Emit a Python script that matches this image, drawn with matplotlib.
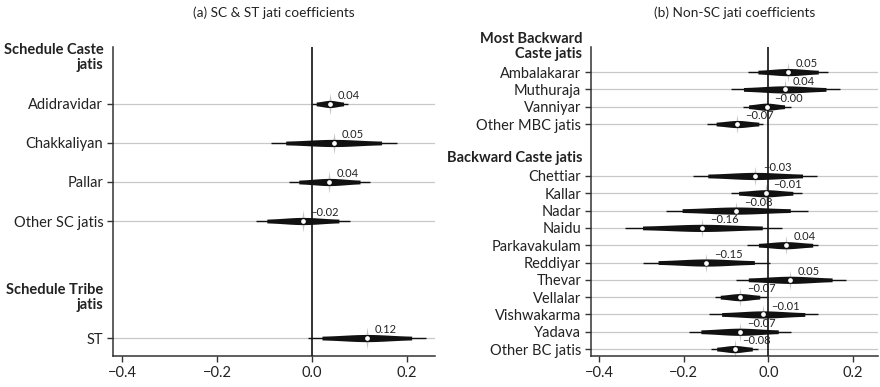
import numpy as np
import matplotlib
matplotlib.use("Agg")
import matplotlib.pyplot as plt
from matplotlib.transforms import blended_transform_factory

plt.rcParams['font.family'] = ['Lato', 'DejaVu Sans']

# (a) Scheduled caste / tribe jatis: estimate and outer interval bounds
sc_labels = ["Adidravidar", "Chakkaliyan", "Pallar", "Other SC jatis"]
sc_coef = [0.038, 0.046, 0.037, -0.019]
sc_lo = [0.000, -0.087, -0.048, -0.119]
sc_hi = [0.076, 0.179, 0.122, 0.081]

st_labels = ["ST"]
st_coef = [0.116]
st_lo = [-0.009]
st_hi = [0.240]

# (b) Non-SC jatis
mbc_labels = ["Ambalakarar", "Muthuraja", "Vanniyar", "Other MBC jatis"]
mbc_coef = [0.047, 0.039, -0.004, -0.073]
mbc_lo = [-0.047, -0.088, -0.059, -0.145]
mbc_hi = [0.141, 0.169, 0.053, -0.012]

bc_labels = ["Chettiar", "Kallar", "Nadar", "Naidu", "Parkavakulam", "Reddiyar",
             "Thevar", "Vellalar", "Vishwakarma", "Yadava", "Other BC jatis"]
bc_coef = [-0.031, -0.006, -0.076, -0.156, 0.041, -0.147,
           0.052, -0.067, -0.012, -0.068, -0.080]
bc_lo = [-0.179, -0.088, -0.243, -0.340, -0.051, -0.296,
         -0.077, -0.127, -0.141, -0.188, -0.135]
bc_hi = [0.116, 0.081, 0.094, 0.033, 0.118, 0.004,
         0.184, -0.004, 0.118, 0.053, -0.024]

xticks = [-0.4, -0.2, 0.0, 0.2]

# four-pointed star drawn behind each estimate
star = [(0, 1), (0.12, 0.12), (0.45, 0), (0.12, -0.12),
        (0, -1), (-0.12, -0.12), (-0.45, 0), (-0.12, 0.12)]


def fmt(v, nd=2):
    return f"{v:.{nd}f}".replace("-", "\u2212")


def draw_coef(ax, y, est, lo, hi, px_per_unit, star_size):
    se = (hi - lo) / (2 * 2.576)
    ax.plot([lo, hi], [y, y], color="#111111", lw=1.0, solid_capstyle="butt", zorder=3)
    # spindle: constant band out to 95%, swelling towards the estimate
    z = np.linspace(-1.96, 1.96, 121)
    half = (1.6 + 2.0 * np.exp(-z ** 2 / 2)) / px_per_unit
    ax.fill_between(est + z * se, y - half, y + half, color="#111111", lw=0, zorder=3)
    ax.plot([est], [y], marker=star, markersize=star_size, color="#bdbdbd", mew=0,
            alpha=0.85, zorder=2)
    ax.plot([est], [y], marker="o", markersize=3.4, color="white", mew=0, zorder=5)
    ax.annotate(fmt(est), (est, y), xytext=(5.5, 2), textcoords="offset points",
                ha="left", va="bottom", fontsize=8, color="#222222", zorder=6)


def panel(ax, groups, ylim, title, star_size):
    ax.set_ylim(*ylim)
    ax.set_xlim(-0.42, 0.26)
    px_per_unit = ax.bbox.height / abs(ylim[0] - ylim[1])
    ticks, names = [], []
    trans = blended_transform_factory(ax.transAxes, ax.transData)
    for header, hy, start, labels, coef, lo, hi in groups:
        ax.text(-0.03, hy, header, transform=trans, ha="right", va="center",
                multialignment="right", fontsize=10.5, fontweight="bold",
                color="#222222", linespacing=1.1)
        for i, name in enumerate(labels):
            y = start + i
            ax.axhline(y, color="#c8c8c8", lw=0.9, zorder=1)
            draw_coef(ax, y, coef[i], lo[i], hi[i], px_per_unit, star_size)
            ticks.append(y)
            names.append(name)
    ax.axvline(0, color="#111111", lw=1.2, zorder=4)
    ax.set_yticks(ticks)
    ax.set_yticklabels(names, fontsize=10.5, color="#222222")
    ax.set_xticks(xticks)
    ax.set_xticklabels([fmt(t, 1) for t in xticks], fontsize=10.5, color="#222222")
    for s in ["top", "right"]:
        ax.spines[s].set_visible(False)
    for s in ["left", "bottom"]:
        ax.spines[s].set_color("#333333")
        ax.spines[s].set_linewidth(1.1)
    ax.tick_params(axis="both", direction="out", length=4, width=1.0, color="#333333")
    ax.tick_params(axis="y", pad=3)
    pos = ax.get_position()
    fig.text(pos.x0 + pos.width / 2, 1 - 13 / 387, title, ha="center", va="center",
             fontsize=9.8, color="#222222")


fig = plt.figure(figsize=(8.8, 3.87), dpi=100)
ax1 = fig.add_axes([113 / 880, 1 - 356 / 387, 322 / 880, 309 / 387])
ax2 = fig.add_axes([591 / 880, 1 - 356 / 387, 287 / 880, 309 / 387])

panel(ax1, [
    ("Schedule Caste\njatis", -0.19, 1, sc_labels, sc_coef, sc_lo, sc_hi),
    ("Schedule Tribe\njatis", 5.97, 7, st_labels, st_coef, st_lo, st_hi),
], (7.46, -0.46), "(a) SC & ST jati coefficients", 16)

panel(ax2, [
    ("Most Backward\nCaste jatis", -1.5, 0, mbc_labels, mbc_coef, mbc_lo, mbc_hi),
    ("Backward Caste jatis", 4.97, 6, bc_labels, bc_coef, bc_lo, bc_hi),
], (16.4, -1.45), "(b) Non-SC jati coefficients", 14)

fig.savefig("out.png", dpi=100)
